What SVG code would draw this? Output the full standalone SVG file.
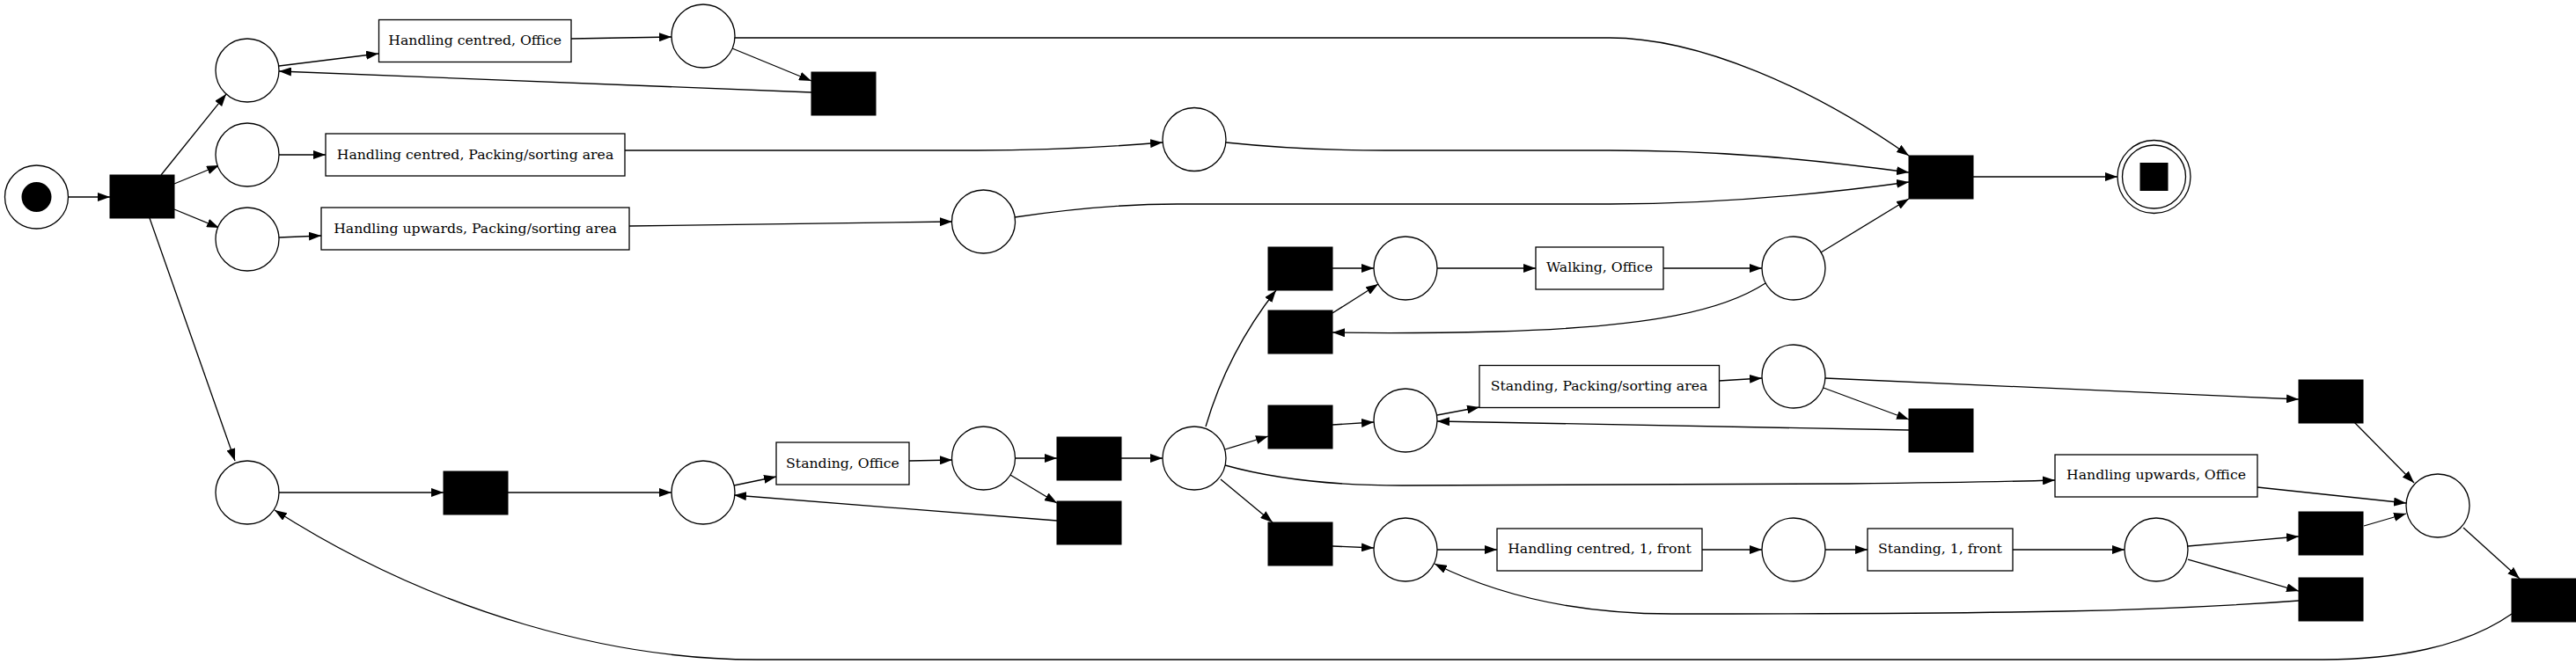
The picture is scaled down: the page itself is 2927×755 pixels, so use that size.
<svg xmlns="http://www.w3.org/2000/svg" width="2927" height="755" viewBox="0 0 2927 755">
<style>
.pl{fill:#fff;stroke:#000;stroke-width:1.3}
.tr{fill:#000;stroke:#000;stroke-width:1}
.bx{fill:#fff;stroke:#000;stroke-width:1.3}
.lb{font-family:"DejaVu Serif","Liberation Serif",serif;font-size:15.7px;text-anchor:middle;fill:#000}
.e{fill:none;stroke:#000;stroke-width:1.3;marker-end:url(#ah)}
</style>
<defs>
<marker id="ah" viewBox="0 0 14 10" refX="14" refY="5" markerWidth="14" markerHeight="10" markerUnits="userSpaceOnUse" orient="auto">
<path d="M0,0 L14,5 L0,10 Z" fill="#000"/>
</marker>
</defs>
<rect width="2927" height="755" fill="#fff"/>
<g id="connectors">
<path class="e" d="M77,224 L125,224"/>
<path class="e" d="M183,199 L257,107"/>
<path class="e" d="M198,209 L249,188"/>
<path class="e" d="M198,238 L249,259"/>
<path class="e" d="M170,248 L267,524"/>
<path class="e" d="M317,75 L430,61"/>
<path class="e" d="M649,44 L763,42"/>
<path class="e" d="M832,55 L922,92"/>
<path class="e" d="M922,105 L317,81"/>
<path class="e" d="M317,176 L370,176"/>
<path class="e" d="M710,171 L1110,171 C1200,171 1260,167 1321,162"/>
<path class="e" d="M317,270 L365,268"/>
<path class="e" d="M715,257 L1082,252"/>
<path class="e" d="M834,43 L1829,43 C1930,43 2060,100 2169,177"/>
<path class="e" d="M1393,162 C1450,168 1500,171 1574,171 L1829,171 C1950,171 2050,180 2169,196"/>
<path class="e" d="M1153,247 C1220,237 1280,232 1338,232 L1829,232 C1950,232 2060,222 2169,207"/>
<path class="e" d="M2069,287 L2169,226"/>
<path class="e" d="M2242,201 L2406,201"/>
<path class="e" d="M317,560 L504,560"/>
<path class="e" d="M577,560 L763,560"/>
<path class="e" d="M834,552 L882,542"/>
<path class="e" d="M1201,592 L834,563"/>
<path class="e" d="M1033,524 L1082,523"/>
<path class="e" d="M1153,521 L1201,521"/>
<path class="e" d="M1148,540 L1201,572"/>
<path class="e" d="M1274,521 L1321,521"/>
<path class="e" d="M1370,485 Q1395,400 1450,330"/>
<path class="e" d="M1392,511 L1441,496"/>
<path class="e" d="M1392,529 C1460,548 1530,552 1593,552 L2100,550 C2200,549 2270,548 2335,546"/>
<path class="e" d="M1387,545 L1446,594"/>
<path class="e" d="M1514,305 L1561,305"/>
<path class="e" d="M1514,356 L1566,323"/>
<path class="e" d="M1633,305 L1745,305"/>
<path class="e" d="M1890,305 L2002,305"/>
<path class="e" d="M2006,322 C1960,352 1880,372 1700,377 C1620,379 1560,379 1514,378"/>
<path class="e" d="M1514,483 L1561,480"/>
<path class="e" d="M1633,472 L1681,463"/>
<path class="e" d="M1953,433 L2002,430"/>
<path class="e" d="M2074,430 L2612,454"/>
<path class="e" d="M2072,441 L2169,477"/>
<path class="e" d="M2169,489 L1633,479"/>
<path class="e" d="M2675,480 L2743,549"/>
<path class="e" d="M2565,554 L2734,572"/>
<path class="e" d="M2686,598 L2734,584"/>
<path class="e" d="M2799,600 L2863,658"/>
<path class="e" d="M1514,621 L1561,623"/>
<path class="e" d="M1633,625 L1701,625"/>
<path class="e" d="M1934,625 L2002,625"/>
<path class="e" d="M2074,625 L2122,625"/>
<path class="e" d="M2287,625 L2414,625"/>
<path class="e" d="M2486,621 L2612,610"/>
<path class="e" d="M2486,636 L2612,672"/>
<path class="e" d="M2612,683 C2450,695 2300,698 1900,698 C1790,698 1700,676 1630,641"/>
<path class="e" d="M2854,698 C2800,736 2720,750 2640,750 L860,750 C700,750 500,700 312,580"/>
</g>
<g id="start"><circle class="pl" cx="41.5" cy="224" r="36"/><circle cx="41.5" cy="224" r="17" fill="#000"/></g>
<g id="t1"><rect class="tr" x="125" y="199" width="73" height="49"/></g>
<g id="p1"><circle class="pl" cx="281" cy="80" r="36"/></g>
<g id="p2"><circle class="pl" cx="281" cy="176" r="36"/></g>
<g id="p3"><circle class="pl" cx="281" cy="272" r="36"/></g>
<g id="p4b"><circle class="pl" cx="281" cy="560" r="36"/></g>
<g id="hco"><rect class="bx" x="430.5" y="22.5" width="218.5" height="48"/><text class="lb" x="539.7" y="51">Handling centred, Office</text></g>
<g id="hcp"><rect class="bx" x="370" y="152" width="340" height="48"/><text class="lb" x="540" y="180.5">Handling centred, Packing/sorting area</text></g>
<g id="hup"><rect class="bx" x="365" y="236" width="350" height="48"/><text class="lb" x="540" y="264.5">Handling upwards, Packing/sorting area</text></g>
<g id="p4"><circle class="pl" cx="799" cy="41" r="36"/></g>
<g id="t2"><rect class="tr" x="922" y="82" width="73" height="49"/></g>
<g id="p5"><circle class="pl" cx="1357" cy="158.5" r="36"/></g>
<g id="p6"><circle class="pl" cx="1117.5" cy="252" r="36"/></g>
<g id="tm"><rect class="tr" x="504" y="536" width="73" height="49"/></g>
<g id="pa"><circle class="pl" cx="799" cy="560" r="36"/></g>
<g id="so"><rect class="bx" x="882" y="503" width="151" height="48"/><text class="lb" x="957.5" y="531.5">Standing, Office</text></g>
<g id="pso"><circle class="pl" cx="1117.5" cy="521" r="36"/></g>
<g id="ts1"><rect class="tr" x="1201" y="497" width="73" height="49"/></g>
<g id="ts2"><rect class="tr" x="1201" y="570" width="73" height="49"/></g>
<g id="phub"><circle class="pl" cx="1357" cy="521" r="36"/></g>
<g id="tw1"><rect class="tr" x="1441" y="281" width="73" height="49"/></g>
<g id="tw2"><rect class="tr" x="1441" y="353" width="73" height="49"/></g>
<g id="tsp"><rect class="tr" x="1441" y="461" width="73" height="49"/></g>
<g id="th1"><rect class="tr" x="1441" y="594" width="73" height="49"/></g>
<g id="pw"><circle class="pl" cx="1597" cy="305" r="36"/></g>
<g id="psp"><circle class="pl" cx="1597" cy="478" r="36"/></g>
<g id="phc"><circle class="pl" cx="1597" cy="625" r="36"/></g>
<g id="wo"><rect class="bx" x="1745" y="281" width="145" height="48"/><text class="lb" x="1817.5" y="309">Walking, Office</text></g>
<g id="spa"><rect class="bx" x="1681" y="415.5" width="272.5" height="48"/><text class="lb" x="1817" y="444">Standing, Packing/sorting area</text></g>
<g id="hc1f"><rect class="bx" x="1701" y="601" width="233" height="48"/><text class="lb" x="1817.5" y="629">Handling centred, 1, front</text></g>
<g id="pwo"><circle class="pl" cx="2038" cy="305" r="36"/></g>
<g id="psp2"><circle class="pl" cx="2038" cy="428" r="36"/></g>
<g id="phc2"><circle class="pl" cx="2038" cy="625" r="36"/></g>
<g id="tsp2"><rect class="tr" x="2169" y="465" width="73" height="49"/></g>
<g id="tf"><rect class="tr" x="2169" y="177" width="73" height="49"/></g>
<g id="s1f"><rect class="bx" x="2122" y="601" width="165" height="48"/><text class="lb" x="2204.5" y="629">Standing, 1, front</text></g>
<g id="end"><circle class="pl" cx="2447.5" cy="201" r="41.5"/><circle class="pl" cx="2447.5" cy="201" r="36"/><rect x="2431.5" y="185" width="32" height="32" fill="#000"/></g>
<g id="huo"><rect class="bx" x="2335" y="517" width="230" height="48"/><text class="lb" x="2450" y="545">Handling upwards, Office</text></g>
<g id="ps1"><circle class="pl" cx="2450" cy="625" r="36"/></g>
<g id="tr1"><rect class="tr" x="2612" y="432" width="73" height="49"/></g>
<g id="tr2"><rect class="tr" x="2612" y="582" width="73" height="49"/></g>
<g id="tr3"><rect class="tr" x="2612" y="657" width="73" height="49"/></g>
<g id="pj"><circle class="pl" cx="2770" cy="575" r="36"/></g>
<g id="tlast"><rect class="tr" x="2854" y="658" width="73" height="49"/></g>
</svg>
